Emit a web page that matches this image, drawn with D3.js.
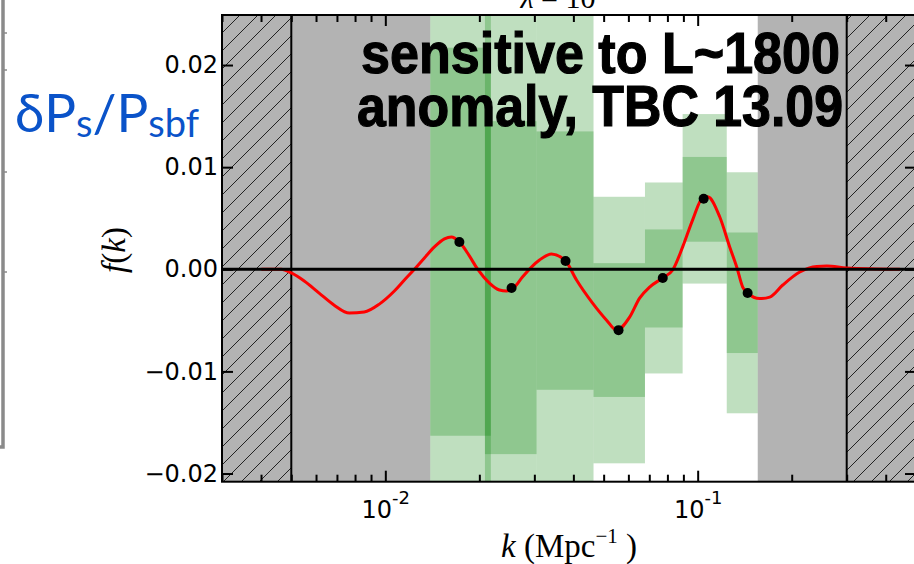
<!DOCTYPE html>
<html>
<head>
<meta charset="utf-8">
<script src="https://cdn.jsdelivr.net/npm/d3@7/dist/d3.min.js"></script>
<style>
  body { margin: 0; background: #fff; }
  svg { display: block; }
</style>
</head>
<body>
<div id="chart"></div>
<script>
// k bins (Mpc^-1) with 1-sigma / 2-sigma bands on f(k)
const binLo  = [0.01393, 0.02084, 0.0305, 0.0464, 0.0678, 0.0895, 0.1239];
const binHi  = [0.02177, 0.0305, 0.0464, 0.0678, 0.0895, 0.1239, 0.1557];
const sig1Lo = [-0.0163, -0.0181, -0.0118, -0.0125, -0.0057, 0.0027, -0.0082];
const sig1Hi = [0.0217, 0.0145, 0.0135, 0.0006, 0.0039, 0.0110, 0.0036];
const sig2Lo = [-0.030, -0.030, -0.030, -0.0190, -0.0102, -0.0014, -0.0141];
const sig2Hi = [0.030, 0.030, 0.030, 0.0071, 0.0085, 0.0152, 0.0095];

// best-fit points
const pointK = [0.01726, 0.02536, 0.03776, 0.0558, 0.0773, 0.1045, 0.1445];
const pointF = [0.00268, -0.00184, 0.00082, -0.00596, -0.00085, 0.00691, -0.00233];

// smooth template f(k)
const curveK = [0.00401, 0.00464, 0.00500, 0.00550, 0.00614, 0.00686, 0.00767, 0.00856, 0.00957,
  0.01069, 0.01151, 0.01239, 0.01334, 0.01436, 0.01546, 0.01627, 0.01726, 0.01858, 0.01972,
  0.02154, 0.02319, 0.02442, 0.02592, 0.02748, 0.03116, 0.03404, 0.03775, 0.04094, 0.04608,
  0.05109, 0.05500, 0.06055, 0.06518, 0.07018, 0.07723, 0.08318, 0.08953, 0.09638, 0.10375,
  0.10766, 0.11762, 0.12664, 0.13335, 0.13935, 0.14460, 0.15800, 0.17013, 0.18726, 0.21226,
  0.24061, 0.25913, 0.30031, 0.44400];
const curveF = [0.0, 0.0, -0.00036, -0.00115, -0.00233, -0.00351, -0.00429, -0.00419, -0.00341,
  -0.00213, -0.00105, 0.0, 0.00111, 0.00219, 0.00298, 0.00317, 0.00268, 0.00131, 0.00003,
  -0.00135, -0.00203, -0.00213, -0.00174, -0.00076, 0.00091, 0.00150, 0.00082, -0.00105, -0.00331,
  -0.00498, -0.00596, -0.00469, -0.00282, -0.00174, -0.00085, -0.00007, 0.00219, 0.00484, 0.00700,
  0.00710, 0.00514, 0.00219, 0.00023, -0.00174, -0.00233, -0.00287, -0.00272, -0.00154, -0.00027,
  0.00028, 0.00032, 0.00013, 0.0];

// shaded k ranges
const grayLo  = [0.005, 0.1557];
const grayHi  = [0.01393, 0.3];
const hatchLo = [0.003, 0.3];
const hatchHi = [0.005, 0.5];

const yTicks = [-0.02, -0.01, 0, 0.01, 0.02];
const xMajor = [0.01, 0.1];
const xMinor = [0.003, 0.004, 0.005, 0.006, 0.007, 0.008, 0.009,
  0.02, 0.03, 0.04, 0.05, 0.06, 0.07, 0.08, 0.09, 0.2, 0.3, 0.4, 0.5];

const W = 914, H = 564;
const margin = { top: 15, left: 222, right: -2, bottom: 82.3 };
const width = W - margin.left - margin.right;
const height = H - margin.top - margin.bottom;

const svg = d3.select('#chart').append('svg')
  .attr('width', W).attr('height', H);

const x = d3.scaleLog().domain([0.003, 0.5]).range([0, width]);
const y = d3.scaleLinear().domain([-0.0208, 0.0249]).range([height, 0]);

const defs = svg.append('defs');
defs.append('clipPath').attr('id', 'clip')
  .append('rect').attr('width', width).attr('height', height);
const pat = defs.append('pattern').attr('id', 'hatch')
  .attr('patternUnits', 'userSpaceOnUse').attr('width', 18).attr('height', 18);
pat.append('rect').attr('width', 18).attr('height', 18).attr('fill', '#b3b3b3');
pat.append('path').attr('d', 'M0,18L18,0M-4.5,4.5L4.5,-4.5M13.5,22.5L22.5,13.5')
  .attr('stroke', '#222').attr('stroke-width', 1);

// stray frame edge at far left
const stray = svg.append('g').attr('stroke', '#8a8a8a').attr('fill', 'none');
stray.append('path').attr('d', 'M3,0V447H0').attr('stroke-width', 3.5);
[33, 70, 172, 272].forEach(v => stray.append('line')
  .attr('x1', 3).attr('x2', 7).attr('y1', v).attr('y2', v).attr('stroke-width', 1.5));

// blue side label
const side = svg.append('text')
  .attr('x', 15).attr('y', 132)
  .attr('font-family', 'Lato, "Open Sans", sans-serif')
  .attr('font-size', 53).attr('fill', '#0a53c9');
side.append('tspan').text('δP');
side.append('tspan').attr('font-size', 38).attr('dy', 5).text('s');
side.append('tspan').attr('dy', -5).text('/P');
side.append('tspan').attr('font-size', 38).attr('dy', 5).text('sbf');

const g = svg.append('g').attr('transform', `translate(${margin.left},${margin.top})`);
const plot = g.append('g').attr('clip-path', 'url(#clip)');

plot.selectAll('rect.gray').data(d3.range(grayLo.length)).join('rect')
  .attr('class', 'gray')
  .attr('x', i => x(grayLo[i])).attr('width', i => x(grayHi[i]) - x(grayLo[i]))
  .attr('y', 0).attr('height', height).attr('fill', '#b3b3b3');

plot.selectAll('rect.hatch').data(d3.range(hatchLo.length)).join('rect')
  .attr('class', 'hatch')
  .attr('x', i => x(hatchLo[i])).attr('width', i => x(hatchHi[i]) - x(hatchLo[i]))
  .attr('y', 0).attr('height', height).attr('fill', 'url(#hatch)');

plot.selectAll('line.edge').data([0.005, 0.3]).join('line')
  .attr('class', 'edge')
  .attr('x1', d => x(d)).attr('x2', d => x(d))
  .attr('y1', 0).attr('y2', height)
  .attr('stroke', '#000').attr('stroke-width', 2);

const bins = d3.range(binLo.length);
plot.selectAll('rect.s2').data(bins).join('rect')
  .attr('class', 's2')
  .attr('x', i => x(binLo[i])).attr('width', i => x(binHi[i]) - x(binLo[i]))
  .attr('y', i => y(sig2Hi[i])).attr('height', i => y(sig2Lo[i]) - y(sig2Hi[i]))
  .attr('fill', 'green').attr('fill-opacity', 0.25);
plot.selectAll('rect.s1').data(bins).join('rect')
  .attr('class', 's1')
  .attr('x', i => x(binLo[i])).attr('width', i => x(binHi[i]) - x(binLo[i]))
  .attr('y', i => y(sig1Hi[i])).attr('height', i => y(sig1Lo[i]) - y(sig1Hi[i]))
  .attr('fill', 'green').attr('fill-opacity', 0.25);

const line = d3.line()
  .x(i => x(curveK[i])).y(i => y(curveF[i]))
  .curve(d3.curveMonotoneX);
plot.append('path').datum(d3.range(curveK.length))
  .attr('d', line).attr('fill', 'none')
  .attr('stroke', 'red').attr('stroke-width', 3);

plot.append('line')
  .attr('x1', 0).attr('x2', width).attr('y1', y(0)).attr('y2', y(0))
  .attr('stroke', '#000').attr('stroke-width', 3);

plot.selectAll('circle').data(d3.range(pointK.length)).join('circle')
  .attr('cx', i => x(pointK[i])).attr('cy', i => y(pointF[i]))
  .attr('r', 5).attr('fill', '#000');

// annotation
const note = svg.append('g')
  .attr('font-family', '"Liberation Sans", Arial, sans-serif')
  .attr('font-weight', 'bold').attr('font-size', 57).attr('fill', '#000')
  .attr('stroke', '#000').attr('stroke-width', 1.2);
note.append('text').attr('x', 361).attr('y', 73)
  .attr('textLength', 479).attr('lengthAdjust', 'spacingAndGlyphs')
  .text('sensitive to L~1800');
note.append('text').attr('x', 357).attr('y', 126)
  .attr('textLength', 486).attr('lengthAdjust', 'spacingAndGlyphs')
  .text('anomaly, TBC 13.09');

// axes
const fmt = d3.format('.2f');
const yl = g.append('g').call(d3.axisLeft(y).tickValues(yTicks).tickSize(-11).tickPadding(4).tickFormat(fmt));
const yr = g.append('g').attr('transform', `translate(${width},0)`)
  .call(d3.axisRight(y).tickValues(yTicks).tickSize(-11).tickFormat(''));
const xb = g.append('g').attr('transform', `translate(0,${height})`)
  .call(d3.axisBottom(x).tickValues(xMajor).tickSize(-11).tickFormat(''));
const xbm = g.append('g').attr('transform', `translate(0,${height})`)
  .call(d3.axisBottom(x).tickValues(xMinor).tickSize(-7).tickFormat(''));
const xt = g.append('g')
  .call(d3.axisTop(x).tickValues(xMajor).tickSize(-11).tickFormat(''));
const xtm = g.append('g')
  .call(d3.axisTop(x).tickValues(xMinor).tickSize(-7).tickFormat(''));

[yl, yr, xb, xbm, xt, xtm].forEach(a => {
  a.select('.domain').remove();
  a.selectAll('line').attr('stroke', '#000').attr('stroke-width', 2);
  a.selectAll('text').attr('font-family', '"DejaVu Sans", sans-serif')
    .attr('font-size', 24).attr('fill', '#000');
});

xb.selectAll('.tick text').each(function (d) {
  const t = d3.select(this).text('').attr('font-size', 24).attr('dy', null).attr('y', 36);
  t.append('tspan').text('10');
  t.append('tspan').attr('font-size', 18).attr('dy', -14)
    .text(String(Math.round(Math.log10(d))));
});

g.append('rect').attr('width', width).attr('height', height)
  .attr('fill', 'none').attr('stroke', '#000').attr('stroke-width', 2);

// axis labels
const serif = '"Liberation Serif", "DejaVu Serif", serif';
const xl = g.append('text').attr('x', width / 2).attr('y', height + 75)
  .attr('text-anchor', 'middle').attr('font-family', serif).attr('font-size', 33);
xl.append('tspan').attr('font-style', 'italic').text('k');
xl.append('tspan').text(' (Mpc');
xl.append('tspan').attr('font-size', 21).attr('dy', -14).text('−1');
xl.append('tspan').attr('dy', 14).text(' )');

const ylab = svg.append('text')
  .attr('transform', 'translate(125,250) rotate(-90)')
  .attr('text-anchor', 'middle').attr('font-family', serif).attr('font-size', 33);
ylab.append('tspan').attr('font-style', 'italic').text('f');
ylab.append('tspan').text('(');
ylab.append('tspan').attr('font-style', 'italic').text('k');
ylab.append('tspan').text(')');

// clipped title at the top
const title = svg.append('text').attr('x', 558).attr('y', 8)
  .attr('text-anchor', 'middle').attr('font-family', serif).attr('font-size', 30);
title.append('tspan').attr('font-style', 'italic').text('λ');
title.append('tspan').text(' = 10');
</script>
</body>
</html>
